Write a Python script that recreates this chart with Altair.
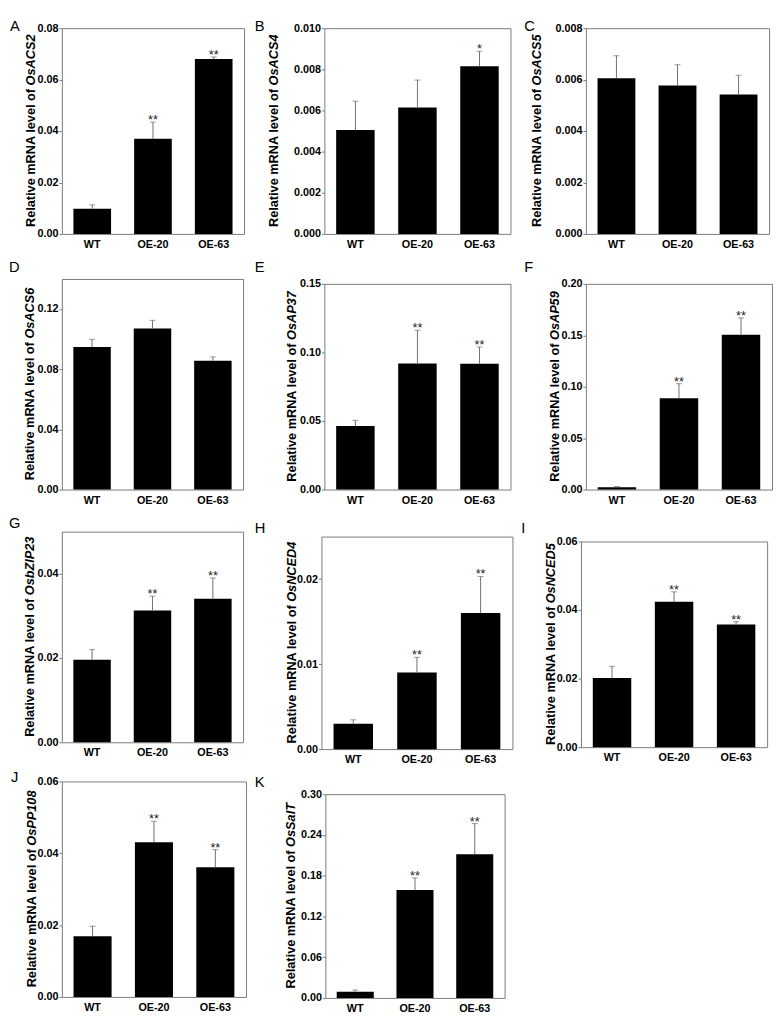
import altair as alt
import pandas as pd

# ---------------- data ----------------
genotypes = ["WT", "OE-20", "OE-63"]
letters = ["A", "B", "C", "D", "E", "F", "G", "H", "I", "J", "K"]
genes = ["OsACS2", "OsACS4", "OsACS5", "OsACS6", "OsAP37", "OsAP59",
         "OsbZIP23", "OsNCED4", "OsNCED5", "OsPP108", "OsSalT"]

mean_acs2 = [0.0098, 0.0370, 0.0680]
mean_acs4 = [0.00505, 0.00615, 0.00815]
mean_acs5 = [0.00605, 0.00577, 0.00542]
mean_acs6 = [0.0947, 0.1071, 0.0856]
mean_ap37 = [0.0464, 0.0919, 0.0917]
mean_ap59 = [0.0022, 0.0889, 0.1506]
mean_bzip23 = [0.0196, 0.0313, 0.0341]
mean_nced4 = [0.0030, 0.0090, 0.0160]
mean_nced5 = [0.0202, 0.0424, 0.0358]
mean_pp108 = [0.0169, 0.0431, 0.0361]
mean_salt = [0.0091, 0.1589, 0.2114]

err_acs2 = [0.0015, 0.0065, 0.0008]
err_acs4 = [0.0014, 0.00133, 0.00073]
err_acs5 = [0.00088, 0.00081, 0.00075]
err_acs6 = [0.0052, 0.0054, 0.0026]
err_ap37 = [0.0041, 0.0243, 0.0123]
err_ap59 = [0.0008, 0.0140, 0.0163]
err_bzip23 = [0.0024, 0.0034, 0.0049]
err_nced4 = [0.00045, 0.0018, 0.0043]
err_nced5 = [0.0034, 0.0029, 0.0008]
err_pp108 = [0.0028, 0.0058, 0.0049]
err_salt = [0.0025, 0.0178, 0.0453]

star_acs2 = ["", "**", "**"]
star_acs4 = ["", "", "*"]
star_acs5 = ["", "", ""]
star_acs6 = ["", "", ""]
star_ap37 = ["", "**", "**"]
star_ap59 = ["", "**", "**"]
star_bzip23 = ["", "**", "**"]
star_nced4 = ["", "**", "**"]
star_nced5 = ["", "**", "**"]
star_pp108 = ["", "**", "**"]
star_salt = ["", "**", "**"]

y_max = [0.08, 0.010, 0.008, 0.14, 0.15, 0.20, 0.05, 0.025, 0.06, 0.06, 0.30]
y_ticks = [
    [0.0, 0.02, 0.04, 0.06, 0.08],
    [0.0, 0.002, 0.004, 0.006, 0.008, 0.010],
    [0.0, 0.002, 0.004, 0.006, 0.008],
    [0.0, 0.04, 0.08, 0.12],
    [0.0, 0.05, 0.10, 0.15],
    [0.0, 0.05, 0.10, 0.15, 0.20],
    [0.0, 0.02, 0.04],
    [0.0, 0.01, 0.02],
    [0.0, 0.02, 0.04, 0.06],
    [0.0, 0.02, 0.04, 0.06],
    [0.0, 0.06, 0.12, 0.18, 0.24, 0.30],
]
y_formats = [".2f", ".3f", ".3f", ".2f", ".2f", ".2f", ".2f", ".2f", ".2f", ".2f", ".2f"]

means = [mean_acs2, mean_acs4, mean_acs5, mean_acs6, mean_ap37, mean_ap59,
         mean_bzip23, mean_nced4, mean_nced5, mean_pp108, mean_salt]
errs = [err_acs2, err_acs4, err_acs5, err_acs6, err_ap37, err_ap59,
        err_bzip23, err_nced4, err_nced5, err_pp108, err_salt]
stars = [star_acs2, star_acs4, star_acs5, star_acs6, star_ap37, star_ap59,
         star_bzip23, star_nced4, star_nced5, star_pp108, star_salt]

# ---------------- layout (pixels) ----------------
# width, height, letter offset left, letter baseline relative to plot top, y-title centre x
layout = [
    (186, 210, 53, 3, -31),    # A
    (190, 210, 71, 3, -51),    # B
    (187, 210, 63, 3, -50),    # C
    (185, 215, 54, -7, -32),   # D
    (190, 210, 71, -12, -33),  # E
    (190, 210, 63, -12, -31),  # F
    (185, 215, 54, -4, -32),   # G
    (195, 217, 68, -4, -30),   # H
    (190, 210, 61, -9, -31),   # I
    (188, 220, 52, 1, -30),    # J
    (183, 208, 72, -7, -35),   # K
]

FONT = "Liberation Sans"
TITLE_FS = 13
LETTER_FS = 15
AXIS_GREY = "#7a7a7a"
ERR_GREY = "#6e6e6e"

# Arial-bold advance widths (per 1000 em) for centring the two-part title
W = {"R": 722, "e": 556, "l": 278, "a": 556, "t": 333, "i": 278, "v": 556, "m": 889,
     "N": 722, "A": 722, "o": 611, "f": 333, " ": 278, "O": 778, "s": 556, "C": 722,
     "S": 667, "P": 667, "b": 611, "Z": 611, "I": 278, "E": 667, "D": 722, "T": 611}


def text_w(s, fs):
    return sum(W.get(ch, 556) for ch in s) / 1000.0 * fs


def panel(i):
    w, h, lx, lb, tx = layout[i]
    df = pd.DataFrame({
        "genotype": genotypes,
        "mean": means[i],
        "top": [m + e for m, e in zip(means[i], errs[i])],
        "star": stars[i],
    })
    xenc = alt.X("genotype:N", sort=genotypes, title=None,
                 scale=alt.Scale(paddingInner=0.38, paddingOuter=0.19))
    yscale = alt.Scale(domain=[0, y_max[i]], nice=False, zero=True)
    yaxis = alt.Axis(values=y_ticks[i], format=y_formats[i], title=None)

    base = alt.Chart(df)
    bars = base.mark_bar(color="black").encode(
        x=xenc, y=alt.Y("mean:Q", scale=yscale, axis=yaxis))
    err = base.mark_rule(color=ERR_GREY, strokeWidth=1).encode(
        x=alt.X("genotype:N", sort=genotypes), y="mean:Q", y2="top:Q")
    cap = base.mark_tick(color=ERR_GREY, size=6, thickness=1).encode(
        x=alt.X("genotype:N", sort=genotypes), y="top:Q")
    st = base.mark_text(fontSize=13, color="#222222", baseline="alphabetic", dy=2,
                        font=FONT).encode(
        x=alt.X("genotype:N", sort=genotypes), y="top:Q", text="star:N")

    part1 = "Relative mRNA level of"
    gap = 0.278 * TITLE_FS
    w1 = text_w(part1, TITLE_FS)
    w2 = text_w(genes[i], TITLE_FS)
    p = h / 2 - (w1 - gap - w2) / 2

    tdf = pd.DataFrame({"t1": [part1], "t2": [genes[i]], "letter": [letters[i]]})
    tbase = alt.Chart(tdf)
    t1 = tbase.mark_text(angle=270, align="right", baseline="middle", fontSize=TITLE_FS,
                         fontWeight="bold", font=FONT, color="black").encode(
        x=alt.value(tx), y=alt.value(p), text="t1:N")
    t2 = tbase.mark_text(angle=270, align="left", baseline="middle", fontSize=TITLE_FS,
                         fontWeight="bold", fontStyle="italic", font=FONT,
                         color="black").encode(
        x=alt.value(tx), y=alt.value(p - gap), text="t2:N")
    lt = tbase.mark_text(align="left", baseline="alphabetic", fontSize=LETTER_FS,
                         font=FONT, color="black").encode(
        x=alt.value(-lx), y=alt.value(lb), text="letter:N")

    return alt.layer(bars, err, cap, st, t1, t2, lt).properties(width=w, height=h)


chart = alt.concat(*[panel(i) for i in range(len(genes))], columns=3,
                   spacing={"row": 9, "column": 7}).properties(
    align="none",
    padding={"left": 0, "top": 0, "right": 0, "bottom": 0},
    background="white",
).configure_view(
    stroke=AXIS_GREY, strokeWidth=1
).configure_axis(
    labelFont=FONT, labelFontWeight="bold", labelColor="black",
    grid=False, domain=False, tickColor=AXIS_GREY,
).configure_axisY(
    labelFontSize=11, tickSize=3, labelPadding=1,
).configure_axisX(
    labelFontSize=11, labelAngle=0, ticks=False, labelPadding=5,
)

chart.save("out.html", embed_options={"renderer": "svg", "actions": False})
